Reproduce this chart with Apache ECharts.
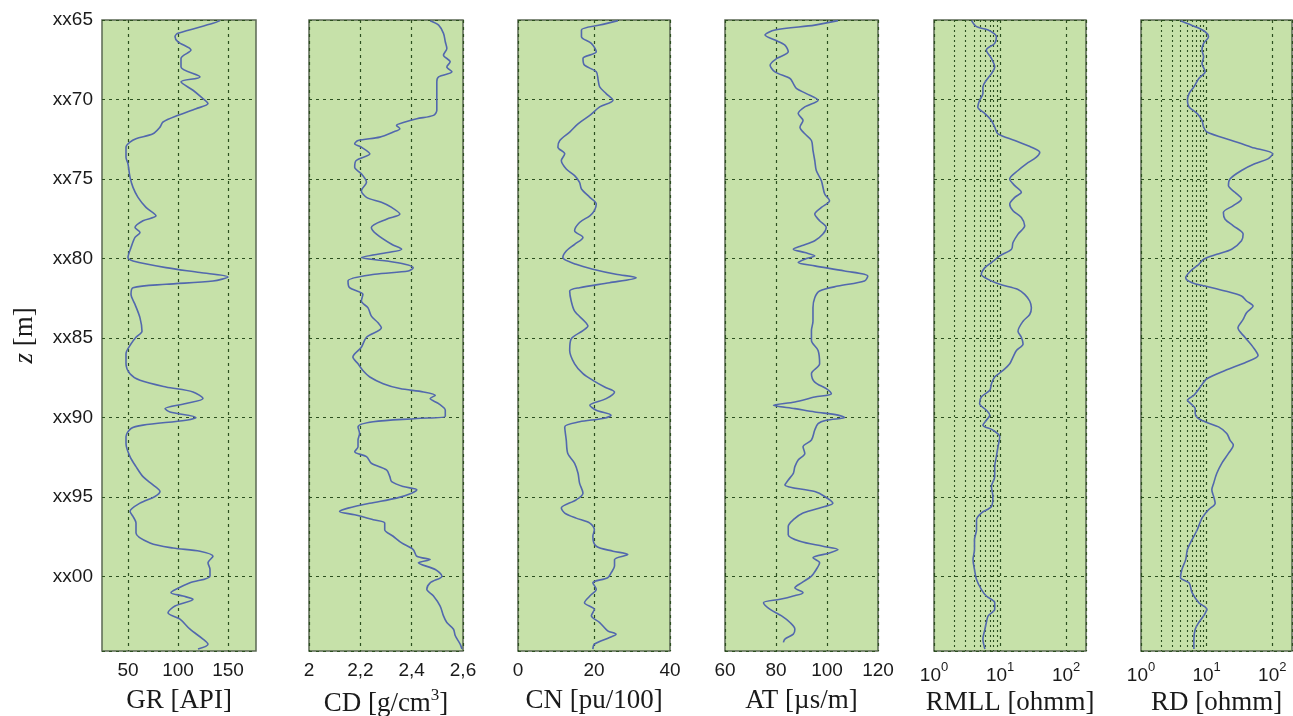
<!DOCTYPE html>
<html>
<head>
<meta charset="utf-8">
<script src="https://cdn.jsdelivr.net/npm/echarts@6/dist/echarts.min.js"></script>
<style>
html,body{margin:0;padding:0;background:#ffffff;}
#chart{width:1293px;height:716px;}
</style>
</head>
<body>
<div id="chart"></div>
<script>
// ---------- DATA ----------
const depthMin = 65;
const depthMax = 104.7;
const depthInterval = 5;
const logMinorTicks = [2, 3, 4, 5, 6, 7, 8, 9];
const grTicks = [50, 100, 150];

const grDepth = [65.04,65.21,65.84,66.05,66.37,66.89,67.42,67.95,68.58,68.89,69.42,69.84,70.26,70.58,71.0,71.42,71.74,72.16,72.47,72.68,73.0,73.63,74.05,74.89,75.53,76.16,76.79,77.32,77.63,78.05,78.37,78.68,79.32,79.95,80.16,80.58,80.89,81.17,81.42,81.63,81.84,82.26,82.89,83.74,84.58,84.96,85.38,86.0,86.63,87.25,87.67,88.09,88.4,88.82,89.13,89.45,89.66,90.01,90.18,90.49,90.7,91.22,91.64,92.47,93.1,93.73,94.25,94.67,94.98,95.4,95.92,96.23,96.65,97.28,97.9,98.22,98.42,98.74,99.15,99.57,99.99,100.41,100.82,101.03,101.24,101.45,101.87,102.29,102.7,103.33,103.95,104.27,104.58];
const grValue = [142,135,100,97,100,113,103,103,122,103,115,123,130,118,100,85,82,75,58,52,48,48,50,52,55,60,68,78,65,57,62,57,53,50,55,88,122,150,135,88,55,53,57,62,64,58,53,48,48,52,62,88,115,125,108,87,92,118,108,65,53,48,48,52,58,65,75,82,77,62,52,55,58,58,72,95,122,135,130,132,132,112,98,93,105,115,97,90,102,112,125,130,120];

const cdDepth = [65.04,65.32,65.84,66.37,66.79,67.21,67.63,67.95,68.26,68.58,68.89,70.05,70.68,71.0,71.21,71.42,71.63,71.84,72.05,72.37,72.58,72.79,73.0,73.42,73.84,74.26,74.68,75.21,75.74,76.16,76.47,76.79,77.21,77.53,78.05,78.47,79.11,79.42,79.63,79.95,80.16,80.37,80.58,80.79,81.0,81.42,81.84,82.26,82.68,83.11,83.63,84.05,84.37,84.96,85.59,86.21,86.63,87.05,87.46,87.88,88.19,88.4,88.61,88.82,89.13,89.55,89.93,90.07,90.28,90.6,91.01,91.43,91.85,92.16,92.47,92.89,93.31,93.73,94.04,94.35,94.56,94.77,95.08,95.4,95.71,95.92,96.13,96.44,96.65,97.07,97.48,97.9,98.32,98.74,98.95,99.15,99.57,99.99,100.41,100.82,101.24,101.87,102.49,102.91,103.33,103.74,104.27,104.58];
const cdValue = [2.472,2.505,2.524,2.531,2.537,2.524,2.550,2.537,2.557,2.505,2.498,2.498,2.498,2.485,2.42,2.374,2.341,2.354,2.328,2.276,2.191,2.178,2.204,2.237,2.184,2.178,2.204,2.224,2.204,2.224,2.282,2.322,2.354,2.302,2.243,2.263,2.322,2.361,2.308,2.204,2.302,2.374,2.406,2.387,2.256,2.152,2.158,2.210,2.204,2.230,2.243,2.269,2.282,2.224,2.204,2.171,2.191,2.210,2.237,2.289,2.354,2.446,2.492,2.472,2.505,2.531,2.531,2.42,2.25,2.191,2.197,2.191,2.191,2.178,2.224,2.243,2.302,2.315,2.322,2.367,2.42,2.40,2.341,2.237,2.152,2.119,2.178,2.25,2.295,2.295,2.328,2.361,2.406,2.42,2.472,2.426,2.492,2.518,2.472,2.459,2.485,2.511,2.524,2.537,2.563,2.570,2.589,2.596];

const cnDepth = [65.04,65.32,65.63,66.05,66.47,67.0,67.42,67.84,68.26,68.79,69.21,69.63,70.05,70.47,71.0,71.53,72.05,72.58,73.0,73.42,73.84,74.37,74.79,75.21,75.63,76.16,76.58,77.0,77.32,77.74,78.26,78.68,79.11,79.53,79.95,80.37,80.68,81.0,81.21,81.53,81.84,82.05,82.68,83.32,83.95,84.26,84.54,85.06,85.79,86.63,87.25,87.67,88.09,88.4,88.82,89.24,89.55,89.86,90.07,90.28,90.6,91.43,92.27,92.89,93.52,94.14,94.77,95.19,95.71,96.02,96.34,96.65,97.07,97.48,98.11,98.42,98.63,98.95,99.36,99.78,100.09,100.41,100.82,101.24,101.66,102.08,102.49,102.91,103.43,103.64,103.85,104.27,104.58];
const cnValue = [26.3,21.5,16.7,16.7,19.3,20.6,17.1,17.5,20.6,21.1,21.5,23.2,25.0,21.5,18.9,15.8,13.6,11.0,10.5,12.3,11.4,12.7,14.9,16.2,16.7,18.9,20.6,20.1,18.9,16.2,14.9,17.1,14.9,12.7,11.8,15.3,19.7,25.8,31.1,24.1,16.2,13.6,14.0,14.9,17.5,18.4,17.1,14.0,13.6,14.9,17.1,19.7,22.8,25.4,23.2,18.9,20.6,24.5,22.3,16.2,12.3,12.7,13.1,14.9,15.8,16.2,17.1,15.3,11.4,12.3,15.3,18.9,20.1,19.7,20.6,25.0,28.9,25.4,25.4,24.5,23.6,19.7,20.6,18.9,17.5,20.1,19.3,21.5,23.6,25.8,24.1,20.1,19.7];

const atDepth = [65.04,65.32,65.63,65.95,66.26,66.58,67.0,67.42,67.84,68.26,68.68,69.0,69.32,69.63,70.05,70.47,70.89,71.32,71.74,72.16,72.58,73.21,73.84,74.47,75.11,75.95,76.37,76.79,77.21,77.63,78.05,78.47,78.89,79.21,79.42,79.63,79.84,80.05,80.26,80.47,80.79,81.11,81.42,81.74,82.05,82.47,83.11,83.95,84.54,85.17,85.79,86.63,87.25,87.78,88.19,88.51,88.72,89.03,89.24,89.45,89.66,89.86,90.01,90.18,90.39,90.8,91.43,91.85,92.27,92.68,93.1,93.52,93.94,94.25,94.67,94.98,95.4,95.61,96.02,96.44,96.86,97.38,97.8,98.11,98.32,98.53,98.84,99.15,99.57,99.99,100.41,100.72,101.03,101.24,101.45,101.66,102.08,102.49,102.91,103.33,103.64,103.95,104.16];
const atValue = [104.3,95.2,79.6,75.7,79.6,83.5,84.8,80.3,77.7,79.6,85.5,86.8,88.1,91.9,96.5,91.3,88.7,90.6,89.4,91.3,93.9,94.5,95.2,95.8,97.8,99.1,101.0,97.8,95.2,97.1,99.7,98.4,95.2,90.0,86.8,91.3,95.2,91.3,88.7,95.2,106.9,116.0,114.7,104.3,97.1,95.2,94.5,94.5,93.9,93.9,96.5,97.1,93.9,95.2,99.7,101.7,95.2,87.4,79.0,87.4,95.2,104.3,106.9,99.7,96.5,95.2,93.9,90.6,91.3,88.7,87.4,86.8,84.8,83.5,95.2,99.1,102.3,99.1,90.6,86.8,84.8,84.8,89.4,98.4,104.3,101.0,94.5,97.1,95.8,93.9,90.0,87.4,90.6,86.8,81.6,75.1,77.7,82.2,85.5,87.4,86.8,83.5,82.9];

const rmllDepth = [65.04,65.42,65.63,66.05,66.47,66.89,67.42,67.95,68.37,68.79,69.21,69.63,70.05,70.47,70.89,71.32,71.74,72.16,72.58,73.0,73.32,73.63,74.05,74.47,75.0,75.42,75.84,76.16,76.58,77.0,77.42,77.95,78.47,79.0,79.42,79.84,80.26,80.58,81.0,81.32,81.63,81.95,82.26,82.68,83.11,83.53,83.95,84.58,84.96,85.38,85.79,86.21,86.63,87.05,87.46,87.88,88.3,88.72,89.13,89.55,89.86,90.18,90.49,90.8,91.22,91.85,92.47,93.1,93.73,94.35,94.98,95.61,96.02,96.44,97.07,97.69,98.32,98.95,99.57,100.2,100.82,101.24,101.66,102.08,102.49,102.91,103.33,103.95,104.58];
const rmllValue = [3.7,4.4,6.6,8.8,8.3,6.2,7.4,8.3,7.4,6.2,5.5,5.5,4.9,4.6,5.9,7.4,8.3,9.3,16.7,29.8,39.9,35.5,25,18.7,14.0,16.7,21,16.7,14.0,15.7,21,23.6,18.7,15.7,14.9,9.9,7.4,5.9,5.2,6.6,9.9,18.7,23.6,28.1,29.8,28.1,22.3,18.7,21,22.3,17.7,15.7,14.0,11.1,8.3,7.4,7.0,5.2,4.9,6.2,7.0,6.2,5.5,7.8,9.9,9.3,8.8,8.3,8.3,7.4,7.8,7.4,5.2,4.4,4.4,4.1,4.1,3.9,4.1,4.4,5.2,6.2,8.3,8.3,6.6,6.2,5.9,5.5,5.9];

const rdDepth = [65.04,65.42,65.74,66.05,66.47,66.89,67.32,67.74,68.26,68.68,69.21,69.63,70.05,70.47,70.89,71.32,71.74,72.05,72.58,73.0,73.42,73.74,74.05,74.47,75.0,75.42,75.84,76.26,76.68,77.11,77.53,77.95,78.47,78.89,79.42,79.74,80.05,80.37,80.79,81.21,81.53,81.74,82.05,82.37,82.68,83.0,83.42,83.84,84.37,84.96,85.58,86.11,86.52,87.05,87.57,88.09,88.61,88.92,89.13,89.45,89.76,90.01,90.28,90.6,91.01,91.43,91.74,92.27,92.89,93.52,94.14,94.56,94.98,95.4,95.81,96.34,97.07,97.69,98.32,98.95,99.57,100.09,100.41,101.03,101.66,102.08,102.49,102.91,103.33,103.95,104.58];
const rdValue = [4.0,6.7,9.5,10.7,9.0,8.5,9.0,8.5,9.5,7.6,6.4,5.4,5.1,5.4,7.2,8.5,9.0,10.1,24.1,48.2,102,86,54,34,22.7,21.5,27,34,25.5,18.0,19.1,25.5,36,34,24.1,14.3,9.0,7.6,5.7,4.8,6.0,9.5,19.1,34,40.6,51,40.6,36,30,38.3,51,60.8,40.6,19.1,10.1,8.0,6.4,5.1,5.7,6.7,6.7,7.2,9.5,15.2,20.3,22.7,25.5,21.5,17.0,14.3,12.8,12.0,12.8,13.5,10.7,8.5,7.2,6.0,5.1,4.8,4.2,4.0,5.4,6.0,7.6,10.1,9.0,7.6,6.7,6.4,6.4];

// ---------- STYLE / LAYOUT ----------
const TICK_FONT = '"Liberation Sans", Arial, sans-serif';
const NAME_FONT = '"Liberation Serif", "Times New Roman", serif';
const BG = '#c6e1a9', BORDER = '#5b6853', GRIDC = '#2c4f1f', LINEC = '#5268ad', TXT = '#1a1a1a';
const PLOT_TOP = 20, PLOT_H = 631;
const layout = [
  {left: 102, width: 154}, {left: 309, width: 154}, {left: 518, width: 152},
  {left: 725, width: 153}, {left: 934, width: 152}, {left: 1141, width: 151}
];

const tracks = [
  {name: 'GR [API]', d: grDepth, v: grValue, scale: {type: 'value', min: 24, max: 178}, custom: grTicks},
  {name: 'CD [g/cm{sup|3}]', d: cdDepth, v: cdValue, scale: {type: 'value', min: 2, max: 2.6, interval: 0.2},
   fmt: v => String(Math.round(v * 10) / 10).replace('.', ',')},
  {name: 'CN [pu/100]', d: cnDepth, v: cnValue, scale: {type: 'value', min: 0, max: 40, interval: 20}},
  {name: 'AT [\u00b5s/m]', d: atDepth, v: atValue, scale: {type: 'value', min: 60, max: 120, interval: 20}},
  {name: 'RMLL [ohmm]', d: rmllDepth, v: rmllValue, scale: {type: 'log', logBase: 10, min: 1, max: 200}, log: true},
  {name: 'RD [ohmm]', d: rdDepth, v: rdValue, scale: {type: 'log', logBase: 10, min: 1, max: 200}, log: true}
];

function logFmt(v) {
  const e = Math.log10(v);
  const r = Math.round(e);
  return Math.abs(e - r) < 1e-6 ? '10{sup|' + r + '}' : '';
}
function depthFmt(v) {
  return 'xx' + String(Math.round(v) % 100).padStart(2, '0');
}

const dotted = {color: GRIDC, type: [3, 4], width: 1.2};

const grids = layout.map(l => ({
  left: l.left, width: l.width, top: PLOT_TOP, height: PLOT_H,
  show: true, backgroundColor: BG, borderColor: BORDER, borderWidth: 1.5,
  containLabel: false, outerBoundsMode: 'none'
}));

const xAxes = [], yAxes = [], series = [];

tracks.forEach((t, i) => {
  const labelCfg = {
    show: true, formatter: t.log ? logFmt : (t.fmt || (v => String(v))),
    fontFamily: TICK_FONT, fontSize: 19, color: TXT, margin: 10,
    rich: {sup: {fontFamily: TICK_FONT, fontSize: 13, color: TXT, padding: [0, 0, 16, 0]}}
  };
  const tickCfg = {show: false};
  if (t.custom) { tickCfg.customValues = t.custom; labelCfg.customValues = t.custom; }
  xAxes.push(Object.assign({gridIndex: i}, t.scale, {
    position: 'bottom',
    axisLine: {show: false},
    axisTick: tickCfg,
    axisLabel: labelCfg,
    splitLine: {show: true, lineStyle: dotted},
    name: t.name, nameLocation: 'middle', nameGap: 36,
    nameTextStyle: {
      fontFamily: NAME_FONT, fontSize: 27, color: TXT,
      rich: {sup: {fontFamily: NAME_FONT, fontSize: 17, color: TXT, padding: [0, 0, 16, 0]}}
    }
  }));
  yAxes.push({
    gridIndex: i, type: 'value', inverse: true, min: depthMin, max: depthMax, interval: depthInterval,
    position: 'left',
    axisLine: {show: false},
    axisTick: {show: false},
    axisLabel: {show: i === 0, formatter: depthFmt, fontFamily: TICK_FONT, fontSize: 19, color: TXT, margin: 9, showMaxLabel: false},
    splitLine: {show: true, lineStyle: dotted},
    name: i === 0 ? '{it|z} [m]' : '', nameLocation: 'middle', nameGap: 64, nameRotate: 90,
    nameTextStyle: {
      fontFamily: NAME_FONT, fontSize: 27, color: TXT,
      rich: {it: {fontFamily: NAME_FONT, fontSize: 27, fontStyle: 'italic', color: TXT}}
    }
  });
  const s = {
    type: 'line', xAxisIndex: i, yAxisIndex: i,
    data: t.v.map((v, k) => [v, t.d[k]]),
    showSymbol: false, symbol: 'none', smooth: 0.3, silent: true, z: 5,
    lineStyle: {color: LINEC, width: 1.6}
  };
  if (t.log) {
    s.markLine = {
      silent: true, symbol: ['none', 'none'], label: {show: false}, animation: false,
      lineStyle: {color: GRIDC, type: [2, 3], width: 1.1},
      emphasis: {disabled: true},
      data: logMinorTicks.map(m => ({xAxis: m}))
    };
  }
  series.push(s);
});

const chart = echarts.init(document.getElementById('chart'), null, {renderer: 'canvas'});
chart.setOption({
  animation: false,
  backgroundColor: '#ffffff',
  grid: grids,
  xAxis: xAxes,
  yAxis: yAxes,
  series: series
});
</script>
</body>
</html>
